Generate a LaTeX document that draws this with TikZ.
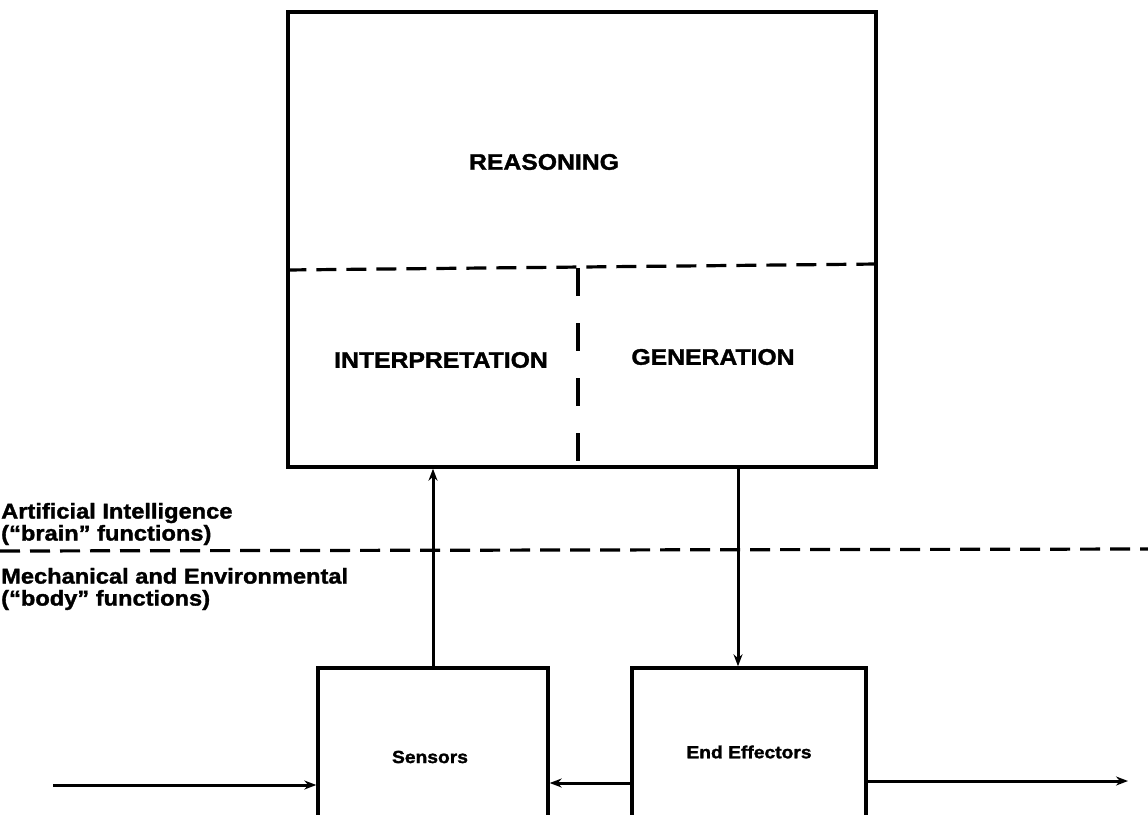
\documentclass[tikz,border=0pt]{standalone}
\usepackage{fontspec}
\newfontfamily\lblfont[FakeStretch=1.1,BoldFeatures={FakeBold=1.5}]{Liberation Sans}
\usetikzlibrary{arrows.meta}
\begin{document}
\begin{tikzpicture}[x=1pt,y=-1pt,
  box/.style={draw, line width=3.4pt, rectangle, inner sep=0pt},
  lbl/.style={font=\lblfont\bfseries\fontsize{22.5}{26}\selectfont, inner sep=0pt},
  small/.style={font=\lblfont\bfseries\fontsize{17.5}{20}\selectfont, inner sep=0pt},
  side/.style={font=\lblfont\bfseries\fontsize{21.5}{22}\selectfont, inner sep=0pt, anchor=west, align=left},
  conn/.style={line width=3pt, -{Stealth[length=12pt,width=9pt]}},
  dsh/.style={line width=3.2pt, dash pattern=on 20pt off 10pt},
  vdsh/.style={line width=3.2pt, dash pattern=on 28pt off 27pt}
]
\clip (0,0) rectangle (1148,814);
\fill[white] (0,0) rectangle (1148,814);
% main box
\node[box, minimum width=588pt, minimum height=455pt] (main) at (582,239.5) {};
\node[box, minimum width=230pt, minimum height=178pt] (sens) at (433,757) {};
\node[box, minimum width=234pt, minimum height=168pt] (ee) at (749,752) {};
% internal dashed dividers
\draw[dsh] (main.west |- 0,270) -- (main.east |- 0,264);
\draw[vdsh] (578,268) -- (main.south -| 578,0);
% texts
\node[lbl] (reas) at (544,162) {REASONING};
\node[lbl] (interp) at (441,360) {INTERPRETATION};
\node[lbl] (gen) at (713,357) {GENERATION};
\node[small] (senst) at (430,757) {Sensors};
\node[small] (eet) at (749,752) {End Effectors};
\node[side] (ai) at (1,524) {Artificial Intelligence\\(“brain” functions)};
\node[side] (mech) at (1,589) {Mechanical and Environmental\\(“body” functions)};
% long dashed boundary
\coordinate (bl) at (0,551);
\coordinate (br) at (1148,549);
\draw[dsh] (bl) -- (br);
% connectors
\draw[conn] (sens.north) -- (sens.north |- main.south);
\draw[conn] ([xshift=-11pt]ee.north |- main.south) -- ([xshift=-11pt]ee.north);
\coordinate (in) at (53,785);
\coordinate (out) at (1128,781);
\draw[conn] (in) -- (in -| sens.west);
\draw[conn] (ee.west |- 0,783) -- (sens.east |- 0,783);
\draw[conn] (ee.east |- out) -- (out);
\end{tikzpicture}
\end{document}
